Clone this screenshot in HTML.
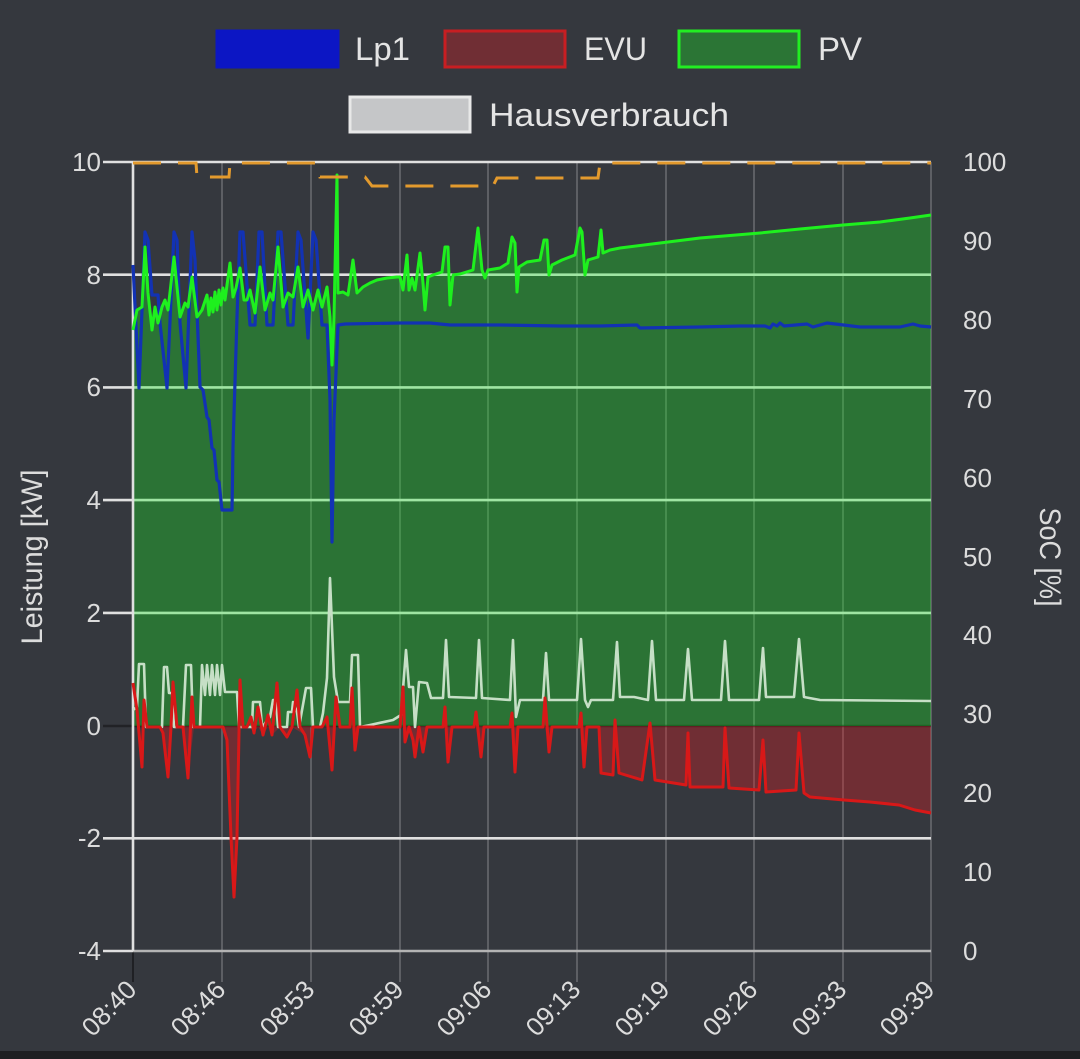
<!DOCTYPE html>
<html><head><meta charset="utf-8"><style>
html,body{margin:0;padding:0;background:#35383e;}
svg{display:block;}
text{font-family:"Liberation Sans",sans-serif;}
</style></head><body>
<svg width="1080" height="1059" viewBox="0 0 1080 1059" xmlns="http://www.w3.org/2000/svg">
<rect x="0" y="0" width="1080" height="1059" fill="#35383e"/>
<rect x="0" y="1051" width="1080" height="8" fill="#1e1f22"/>

<!-- Legend -->
<rect x="217" y="31" width="121" height="36" fill="#0c16c4" stroke="#0c16c4" stroke-width="3"/>
<text x="355" y="60" font-size="32" fill="#e4e4e4" textLength="55" lengthAdjust="spacingAndGlyphs">Lp1</text>
<rect x="445" y="31" width="120" height="36" fill="#702e34" stroke="#c81e22" stroke-width="3"/>
<text x="584" y="60" font-size="32" fill="#e4e4e4" textLength="63" lengthAdjust="spacingAndGlyphs">EVU</text>
<rect x="679" y="31" width="120" height="36" fill="#2b7535" stroke="#22ee22" stroke-width="3"/>
<text x="818" y="60" font-size="32" fill="#e4e4e4" textLength="44" lengthAdjust="spacingAndGlyphs">PV</text>
<rect x="350" y="97" width="120" height="35" fill="#c5c6c8" stroke="#e8e8e8" stroke-width="3"/>
<text x="489" y="126" font-size="32" fill="#e4e4e4" textLength="240" lengthAdjust="spacingAndGlyphs">Hausverbrauch</text>

<!-- vertical grid -->
<g stroke="rgba(255,255,255,0.2)" stroke-width="2">
<line x1="222" y1="162" x2="222" y2="982"/>
<line x1="311" y1="162" x2="311" y2="982"/>
<line x1="400" y1="162" x2="400" y2="982"/>
<line x1="488" y1="162" x2="488" y2="982"/>
<line x1="577" y1="162" x2="577" y2="982"/>
<line x1="666" y1="162" x2="666" y2="982"/>
<line x1="754" y1="162" x2="754" y2="982"/>
<line x1="843" y1="162" x2="843" y2="982"/>
<line x1="931" y1="162" x2="931" y2="982"/>
</g>
<line x1="133" y1="951" x2="133" y2="982" stroke="#1f2024" stroke-width="2"/>

<!-- horizontal grid -->
<g stroke="#e0e0e0" stroke-width="2.6">
<line x1="103" y1="162" x2="931" y2="162"/>
<line x1="103" y1="274.7" x2="931" y2="274.7"/>
<line x1="103" y1="387.4" x2="931" y2="387.4"/>
<line x1="103" y1="500.1" x2="931" y2="500.1"/>
<line x1="103" y1="612.9" x2="931" y2="612.9"/>
<line x1="103" y1="838.3" x2="931" y2="838.3"/>
<line x1="103" y1="951" x2="133" y2="951"/>
</g>
<line x1="133" y1="951" x2="931" y2="951" stroke="#b4b4b4" stroke-width="2.6"/>
<line x1="103" y1="726" x2="931" y2="726" stroke="rgba(20,20,24,0.6)" stroke-width="2.5"/>

<!-- PV fill -->
<path fill="rgba(22,240,34,0.32)" d="M133,330 L137,310 L142,307 L145,247 L148,293 L152,330 L155,307 L158,323 L162,307 L165,300 L168,310 L174,257 L180,317 L185,303 L188,307 L192,277 L197,317 L202,310 L207,295 L209,315 L211,298 L213,312 L215,292 L217,310 L219,290 L221,305 L223,288 L225,300 L227,285 L230,263 L233,297 L236,288 L240,268 L244,300 L247,300 L250,290 L255,313 L260,267 L265,310 L270,293 L273,300 L278,247 L283,307 L288,293 L293,297 L298,267 L303,307 L308,290 L313,310 L318,290 L322,307 L327,287 L330,317 L332,365 L334,317 L337,175 L338,293 L343,292 L348,295 L353,260 L357,293 L363,287 L370,283 L377,280 L387,278 L397,277 L400,277 L403,290 L407,255 L409,290 L412,278 L415,290 L420,253 L423,283 L425,310 L428,277 L433,275 L442,272 L445,247 L448,247 L450,305 L453,275 L460,274 L473,270 L478,228 L482,270 L485,278 L488,270 L500,268 L508,263 L512,237 L515,243 L517,292 L519,267 L527,262 L540,260 L544,240 L547,240 L549,275 L552,265 L562,260 L575,255 L580,228 L582,232 L585,275 L588,260 L598,257 L601,230 L603,253 L610,250 L620,248 L660,243 L700,238 L760,233 L800,229 L843,225 L880,222 L910,218 L931,215 L931,726 L133,726 Z"/>

<!-- EVU fill -->
<path fill="rgba(237,25,31,0.32)" d="M133,726 L147,727 L160,727 L163,733 L168,777 L171,727 L183,727 L188,778 L194,727 L223,727 L227,740 L231,837 L234,897 L237,837 L240,726 L250,727 L254,733 L258,727 L263,735 L268,727 L272,735 L280,727 L287,737 L292,727 L305,735 L310,757 L313,727 L327,727 L332,770 L336,726 L352,727 L355,750 L358,727 L403,727 L405,742 L409,727 L413,740 L415,757 L419,727 L423,752 L427,727 L445,727 L448,762 L452,727 L476,727 L481,757 L484,727 L512,727 L515,772 L518,727 L545,727 L549,752 L552,727 L581,727 L584,767 L587,727 L599,727 L601,773 L613,775 L615,720 L619,773 L642,780 L650,723 L655,780 L686,785 L688,733 L690,787 L723,787 L725,728 L729,788 L759,790 L763,740 L766,792 L796,790 L799,733 L804,793 L810,797 L844,800 L870,802 L899,805 L915,810 L931,813 L931,726 Z"/>

<!-- left axis -->
<line x1="133" y1="162" x2="133" y2="951" stroke="#e0e0e0" stroke-width="2.6"/>

<!-- Hausverbrauch -->
<polyline fill="none" stroke="#c6dfc6" stroke-width="2.6" stroke-linejoin="round" points="133,710 137,707 139,664 144,664 146,727 162,727 164,667 167,667 169,693 172,693 174,727 183,727 186,665 191,665 193,727 200,727 202,665 205,695 207,665 210,695 212,665 215,695 217,665 220,695 222,665 225,692 237,692 239,727 252,727 253,702 260,702 262,727 270,717 273,700 276,700 278,727 287,727 288,712 292,712 293,702 297,712 299,727 306,688 311,688 313,727 320,727 323,713 327,678 330,578 334,677 338,702 350,702 352,655 358,655 360,727 370,725 393,720 401,715 406,650 409,687 413,687 415,727 419,682 427,683 431,698 443,698 446,640 449,697 476,698 479,640 482,698 510,700 513,640 516,717 520,700 543,700 546,653 549,700 577,700 581,639 585,700 588,707 591,700 613,700 617,642 620,697 634,697 648,700 652,641 656,700 684,700 688,649 692,700 721,700 725,641 729,700 759,700 763,648 766,697 794,697 799,639 804,697 820,700 931,701"/>

<!-- EVU line -->
<polyline fill="none" stroke="#d81818" stroke-width="3" stroke-linejoin="round" points="133,683 137,710 142,767 144,700 147,727 160,727 163,733 168,777 171,727 173,682 177,727 183,727 188,778 192,697 194,727 223,727 227,740 231,837 234,897 237,837 240,680 243,727 247,727 251,717 254,733 258,707 263,735 268,715 272,735 277,683 280,727 287,737 292,727 297,690 300,727 305,735 310,757 313,727 322,727 327,717 332,770 336,697 340,727 350,727 352,688 355,750 358,727 400,727 403,687 405,742 409,727 413,740 415,757 419,727 423,752 427,727 443,727 445,707 448,762 452,727 474,727 476,712 481,757 484,727 510,727 512,713 515,772 518,727 543,727 545,698 549,752 552,727 579,727 581,713 584,767 587,727 599,727 601,773 613,775 615,720 619,773 642,780 650,723 655,780 686,785 688,733 690,787 723,787 725,728 729,788 759,790 763,740 766,792 796,790 799,733 804,793 810,797 844,800 870,802 899,805 915,810 931,813"/>

<!-- Lp1 line -->
<polyline fill="none" stroke="#1232b4" stroke-width="3.2" stroke-linejoin="round" points="133,265 139,388 145,232 148,240 152,295 158,295 160,323 167,388 174,232 177,240 180,323 186,388 192,232 195,260 200,387 203,390 207,417 209,420 212,448 214,450 217,480 219,482 222,510 232,510 233,447 237,317 240,232 243,232 250,325 255,325 259,232 262,232 267,325 273,325 278,232 281,232 288,325 293,325 298,232 301,240 308,338 313,232 316,240 322,325 327,325 330,400 332,542 334,420 338,325 345,324 400,323 430,323 450,325 500,325 560,326 600,326 637,325 640,328 700,327 740,326 765,326 770,328 773,324 777,326 780,323 784,326 807,324 813,327 827,323 860,327 900,327 913,324 920,326 931,327"/>

<!-- PV line -->
<polyline fill="none" stroke="#1ef01e" stroke-width="3" stroke-linejoin="round" points="133,330 137,310 142,307 145,247 148,293 152,330 155,307 158,323 162,307 165,300 168,310 174,257 180,317 185,303 188,307 192,277 197,317 202,310 207,295 209,315 211,298 213,312 215,292 217,310 219,290 221,305 223,288 225,300 227,285 230,263 233,297 236,288 240,268 244,300 247,300 250,290 255,313 260,267 265,310 270,293 273,300 278,247 283,307 288,293 293,297 298,267 303,307 308,290 313,310 318,290 322,307 327,287 330,317 332,365 334,317 337,175 338,293 343,292 348,295 353,260 357,293 363,287 370,283 377,280 387,278 397,277 400,277 403,290 407,255 409,290 412,278 415,290 420,253 423,283 425,310 428,277 433,275 442,272 445,247 448,247 450,305 453,275 460,274 473,270 478,228 482,270 485,278 488,270 500,268 508,263 512,237 515,243 517,292 519,267 527,262 540,260 544,240 547,240 549,275 552,265 562,260 575,255 580,228 582,232 585,275 588,260 598,257 601,230 603,253 610,250 620,248 660,243 700,238 760,233 800,229 843,225 880,222 910,218 931,215"/>

<!-- SoC dashed -->
<path fill="none" stroke="#e39a2d" stroke-width="3" stroke-dasharray="28 17" d="M133,163 L196,163 L197,177 L229,177 L230,163 L318,163 L320,177 L365,177 L372,186 L493,186 L497,178 L598,178 L600,163 L931,163"/>

<!-- left tick labels -->
<g font-size="26" fill="#dcdcdc" text-anchor="end">
<text x="101" y="171">10</text>
<text x="101" y="284">8</text>
<text x="101" y="396">6</text>
<text x="101" y="509">4</text>
<text x="101" y="622">2</text>
<text x="101" y="735">0</text>
<text x="101" y="847">-2</text>
<text x="101" y="960">-4</text>
</g>
<!-- right tick labels -->
<g font-size="26" fill="#dcdcdc">
<text x="963" y="171">100</text>
<text x="963" y="250">90</text>
<text x="963" y="329">80</text>
<text x="963" y="408">70</text>
<text x="963" y="487">60</text>
<text x="963" y="566">50</text>
<text x="963" y="644">40</text>
<text x="963" y="723">30</text>
<text x="963" y="802">20</text>
<text x="963" y="881">10</text>
<text x="963" y="960">0</text>
</g>

<!-- axis titles -->
<text transform="translate(42,557) rotate(-90)" font-size="30" fill="#dcdcdc" text-anchor="middle" textLength="175" lengthAdjust="spacingAndGlyphs">Leistung [kW]</text>
<text transform="translate(1040,557) rotate(90)" font-size="30" fill="#dcdcdc" text-anchor="middle" textLength="99" lengthAdjust="spacingAndGlyphs">SoC [%]</text>

<!-- x labels -->
<g font-size="26" fill="#dcdcdc" text-anchor="end">
<text transform="translate(138,991) rotate(-46)">08:40</text>
<text transform="translate(227,991) rotate(-46)">08:46</text>
<text transform="translate(316,991) rotate(-46)">08:53</text>
<text transform="translate(405,991) rotate(-46)">08:59</text>
<text transform="translate(493,991) rotate(-46)">09:06</text>
<text transform="translate(582,991) rotate(-46)">09:13</text>
<text transform="translate(671,991) rotate(-46)">09:19</text>
<text transform="translate(759,991) rotate(-46)">09:26</text>
<text transform="translate(848,991) rotate(-46)">09:33</text>
<text transform="translate(936,991) rotate(-46)">09:39</text>
</g>
</svg>
</body></html>
